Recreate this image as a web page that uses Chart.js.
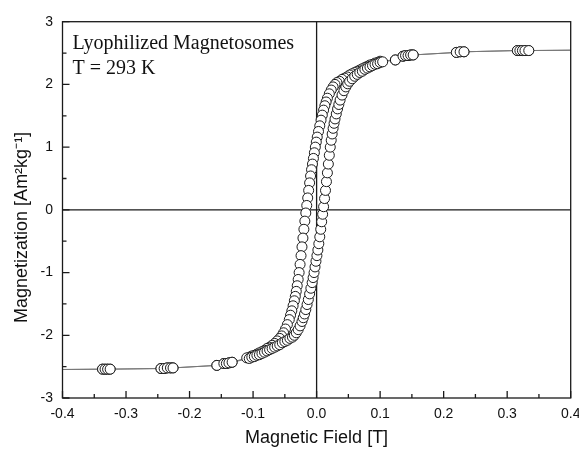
<!DOCTYPE html>
<html>
<head>
<meta charset="utf-8">
<script src="https://cdn.jsdelivr.net/npm/chart.js@4.4.0/dist/chart.umd.min.js"></script>
<style>
  html, body { margin: 0; padding: 0; background: #fff; }
</style>
</head>
<body>
<canvas id="myChart" width="579" height="450"></canvas>
<script>
  // data block (field in T, magnetization in Am2/kg)
  const fieldLow = [-0.337, -0.333, -0.329, -0.325, -0.245, -0.240, -0.235, -0.230, -0.226, -0.157, -0.146, -0.142, -0.138, -0.133];
  const magLow = [-2.54, -2.54, -2.54, -2.54, -2.53, -2.53, -2.52, -2.52, -2.52, -2.48, -2.45, -2.45, -2.44, -2.43];

  const fieldHigh = [0.124, 0.136, 0.140, 0.144, 0.148, 0.152, 0.220, 0.226, 0.232, 0.316, 0.320, 0.324, 0.328, 0.334];
  const magHigh = [2.39, 2.45, 2.46, 2.46, 2.47, 2.47, 2.51, 2.52, 2.52, 2.54, 2.54, 2.54, 2.54, 2.54];

  // ascending branch (dense part)
  const fieldAsc = [-0.106, -0.102, -0.098, -0.094, -0.090, -0.086, -0.082, -0.078, -0.074, -0.070, -0.066, -0.062, -0.058, -0.054, -0.050, -0.046, -0.042, -0.038,
    -0.035, -0.032, -0.029, -0.026, -0.023, -0.021, -0.019, -0.017, -0.015, -0.013, -0.011, -0.009, -0.007,
    -0.0055, -0.004, -0.0025, -0.001, 0.0005, 0.002, 0.0035, 0.005, 0.0065, 0.008, 0.0095, 0.011, 0.0125, 0.014, 0.0155, 0.017, 0.0185, 0.020, 0.0215, 0.023, 0.0245, 0.026, 0.0275, 0.029,
    0.031, 0.033, 0.035, 0.037, 0.040, 0.043, 0.046, 0.049, 0.052,
    0.056, 0.060, 0.064, 0.068, 0.072, 0.076, 0.080, 0.084, 0.088, 0.092, 0.096, 0.100, 0.104];
  const magAsc = [-2.37, -2.35, -2.34, -2.32, -2.31, -2.29, -2.27, -2.25, -2.23, -2.21, -2.19, -2.17, -2.15, -2.12, -2.10, -2.08, -2.05, -2.03,
    -2.00, -1.96, -1.91, -1.85, -1.78, -1.72, -1.66, -1.59, -1.51, -1.43, -1.34, -1.25, -1.16,
    -1.08, -1.00, -0.91, -0.82, -0.73, -0.64, -0.54, -0.43, -0.31, -0.19, -0.07, 0.05, 0.18, 0.31, 0.45, 0.59, 0.73, 0.87, 1.00, 1.11, 1.21, 1.30, 1.38, 1.45,
    1.53, 1.61, 1.68, 1.75, 1.83, 1.90, 1.96, 2.01, 2.05,
    2.09, 2.13, 2.16, 2.19, 2.21, 2.24, 2.26, 2.28, 2.30, 2.32, 2.33, 2.35, 2.36];

  // descending branch (dense part)
  const fieldDesc = [0.100, 0.096, 0.092, 0.088, 0.084, 0.080, 0.076, 0.072, 0.068, 0.064, 0.060, 0.056, 0.052, 0.048, 0.044, 0.040, 0.036, 0.032,
    0.029, 0.026, 0.023, 0.020, 0.017, 0.015, 0.013, 0.011, 0.009, 0.007, 0.005, 0.003, 0.001,
    -0.0005, -0.002, -0.0035, -0.005, -0.0065, -0.008, -0.0095, -0.011, -0.0125, -0.014, -0.0155, -0.017, -0.0185, -0.020, -0.0215, -0.023, -0.0245, -0.026, -0.0275, -0.029, -0.0305, -0.032, -0.0335, -0.035,
    -0.037, -0.039, -0.041, -0.043, -0.046, -0.049, -0.052, -0.055, -0.058,
    -0.062, -0.066, -0.070, -0.074, -0.078, -0.082, -0.086, -0.090, -0.094, -0.098, -0.102, -0.106, -0.110];
  const magDesc = [2.37, 2.35, 2.34, 2.32, 2.31, 2.29, 2.27, 2.25, 2.23, 2.21, 2.19, 2.17, 2.15, 2.12, 2.10, 2.08, 2.05, 2.03,
    2.00, 1.96, 1.91, 1.85, 1.78, 1.72, 1.66, 1.59, 1.51, 1.43, 1.34, 1.25, 1.16,
    1.08, 1.00, 0.91, 0.82, 0.73, 0.64, 0.54, 0.43, 0.31, 0.19, 0.07, -0.05, -0.18, -0.31, -0.45, -0.59, -0.73, -0.87, -1.00, -1.11, -1.21, -1.30, -1.38, -1.45,
    -1.53, -1.61, -1.68, -1.75, -1.83, -1.90, -1.96, -2.01, -2.05,
    -2.09, -2.13, -2.16, -2.19, -2.21, -2.24, -2.26, -2.28, -2.30, -2.32, -2.33, -2.35, -2.36];

  // saturation values the line runs out to (outside the plotted range)
  const satField = [-0.45, 0.45];
  const satMag = [-2.55, 2.55];

  const xTicks = [-0.4, -0.3, -0.2, -0.1, 0.0, 0.1, 0.2, 0.3, 0.4];
  const yTicks = [-3, -2, -1, 0, 1, 2, 3];

  const annotation = ['Lyophilized Magnetosomes', 'T = 293 K'];
  const yTitle = 'Magnetization [Am\u00B2kg\u207B\u00B9]';

  // setup block
  function pts(xs, ys) {
    return xs.map(function (v, i) { return { x: v, y: ys[i] }; });
  }
  const lowPts = pts(fieldLow, magLow);
  const highPts = pts(fieldHigh, magHigh);
  const ascPts = lowPts.concat(pts(fieldAsc, magAsc), highPts);
  const descPts = highPts.slice().reverse().concat(pts(fieldDesc, magDesc), lowPts.slice().reverse());
  const satLow = { x: satField[0], y: satMag[0] };
  const satHigh = { x: satField[1], y: satMag[1] };

  const lineStyle = {
    showLine: true, pointRadius: 0, borderColor: '#777', borderWidth: 1, order: 2
  };
  const pointStyle = {
    showLine: false, pointRadius: 5, pointHoverRadius: 5, pointBackgroundColor: '#fff',
    pointBorderColor: '#1a1a1a', pointBorderWidth: 1, order: 1
  };

  const data = {
    datasets: [
      Object.assign({ data: [satLow].concat(ascPts, [satHigh]) }, lineStyle),
      Object.assign({ data: [satHigh].concat(descPts, [satLow]) }, lineStyle),
      Object.assign({ data: ascPts }, pointStyle),
      Object.assign({ data: descPts }, pointStyle)
    ]
  };

  function minors(list) {
    const out = [];
    for (let i = 0; i < list.length - 1; i++) out.push((list[i] + list[i + 1]) / 2);
    return out;
  }

  const framePlugin = {
    id: 'frame',
    beforeDatasetsDraw(chart) {
      const { ctx, chartArea: a, scales: { x, y } } = chart;
      ctx.save();
      ctx.strokeStyle = '#1a1a1a';
      ctx.lineWidth = 1.3;
      const x0 = x.getPixelForValue(0), y0 = y.getPixelForValue(0);
      ctx.beginPath();
      ctx.moveTo(x0, a.top); ctx.lineTo(x0, a.bottom);
      ctx.moveTo(a.left, y0); ctx.lineTo(a.right, y0);
      ctx.stroke();
      ctx.restore();
    },
    afterDatasetsDraw(chart) {
      const { ctx, chartArea: a, scales: { x, y } } = chart;
      ctx.save();
      ctx.strokeStyle = '#1a1a1a';
      ctx.lineWidth = 1.3;
      ctx.strokeRect(a.left, a.top, a.right - a.left, a.bottom - a.top);
      ctx.beginPath();
      xTicks.forEach(function (v) {
        const px = x.getPixelForValue(v);
        ctx.moveTo(px, a.bottom); ctx.lineTo(px, a.bottom - 7);
      });
      minors(xTicks).forEach(function (v) {
        const px = x.getPixelForValue(v);
        ctx.moveTo(px, a.bottom); ctx.lineTo(px, a.bottom - 4);
      });
      yTicks.forEach(function (v) {
        const py = y.getPixelForValue(v);
        ctx.moveTo(a.left, py); ctx.lineTo(a.left + 7, py);
      });
      minors(yTicks).forEach(function (v) {
        const py = y.getPixelForValue(v);
        ctx.moveTo(a.left, py); ctx.lineTo(a.left + 4, py);
      });
      ctx.stroke();

      ctx.fillStyle = '#111';
      ctx.font = '20px "Liberation Serif", "Times New Roman", serif';
      ctx.textAlign = 'left';
      ctx.textBaseline = 'alphabetic';
      ctx.fillText(annotation[0], a.left + 10, a.top + 27.5);
      ctx.fillText(annotation[1], a.left + 10, a.top + 52.5);

      // y axis title, sits a bit below the middle as in the source figure
      ctx.translate(21.7, y.getPixelForValue(-0.28));
      ctx.rotate(-Math.PI / 2);
      ctx.textAlign = 'center';
      ctx.textBaseline = 'middle';
      ctx.font = '18px "Liberation Sans", Arial, sans-serif';
      ctx.fillText(yTitle, 0, 0);
      ctx.restore();
    }
  };

  const config = {
    type: 'scatter',
    data: data,
    options: {
      responsive: false,
      animation: false,
      devicePixelRatio: 1,
      layout: { padding: { left: 0, top: 21.7, right: 8.3, bottom: 0 } },
      plugins: { legend: { display: false }, tooltip: { enabled: false } },
      scales: {
        x: {
          type: 'linear', min: -0.4, max: 0.4,
          afterFit: function (s) { s.height = 52; s.paddingLeft = 0; s.paddingRight = 0; },
          afterBuildTicks: function (s) { s.ticks = xTicks.map(function (v) { return { value: v }; }); },
          grid: { display: false, drawTicks: false },
          border: { display: false },
          ticks: {
            padding: 8, color: '#111',
            font: { family: '"Liberation Sans", Arial, sans-serif', size: 14 },
            callback: function (v) { return Number(v).toFixed(1); }
          },
          title: {
            display: true, text: 'Magnetic Field [T]', color: '#111',
            font: { family: '"Liberation Sans", Arial, sans-serif', size: 18 },
            padding: { top: 0, bottom: 1 }
          }
        },
        y: {
          type: 'linear', min: -3, max: 3,
          afterFit: function (s) { s.width = 62.5; s.paddingTop = 0; s.paddingBottom = 0; },
          afterBuildTicks: function (s) { s.ticks = yTicks.map(function (v) { return { value: v }; }); },
          grid: { display: false, drawTicks: false },
          border: { display: false },
          ticks: {
            padding: 9.5, color: '#111',
            font: { family: '"Liberation Sans", Arial, sans-serif', size: 14 }
          },
          title: { display: false }
        }
      }
    },
    plugins: [framePlugin]
  };

  const myChart = new Chart(
    document.getElementById('myChart'),
    config
  );
</script>
</body>
</html>
